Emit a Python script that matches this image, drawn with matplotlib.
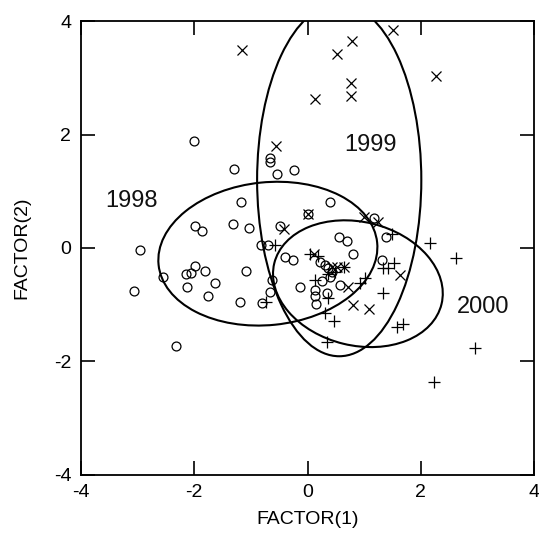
import matplotlib
matplotlib.use("Agg")
import matplotlib.pyplot as plt
from matplotlib.patches import Ellipse

plt.rcParams['font.family'] = ['Liberation Sans', 'DejaVu Sans']

# 1998 (circles)
x1998 = [-2.00, -1.30, -0.67, -0.67, -0.53, -0.24, -1.18, -1.99, -1.86, -1.31,
         -1.03, -0.48, -2.96, -0.83, -0.69, -2.56, -3.06, -1.98, -2.14, -2.06,
         -1.81, -1.64, -2.12, -1.75, -1.08, -1.19, -0.80, -0.63, -0.66, -0.39,
         -0.25, -0.14, -2.33, 0.39, 0.01, 1.18, 1.39, 0.55, 0.70, 0.81,
         0.25, 0.14, 0.14, 0.15, 0.35, 0.58, 1.31, 0.22, 0.31, 0.37, 0.43, 0.40]
y1998 = [1.88, 1.39, 1.58, 1.51, 1.30, 1.38, 0.81, 0.39, 0.30, 0.43,
         0.35, 0.39, -0.04, 0.05, 0.05, -0.51, -0.75, -0.31, -0.45, -0.44,
         -0.41, -0.62, -0.69, -0.85, -0.41, -0.96, -0.97, -0.56, -0.77, -0.16,
         -0.21, -0.69, -1.73, 0.81, 0.60, 0.53, 0.20, 0.20, 0.12, -0.11,
         -0.59, -0.74, -0.85, -0.98, -0.79, -0.65, -0.21, -0.24, -0.30, -0.36, -0.42, -0.51]

# 1999 (crosses)
x1999 = [-1.15, -0.55, -0.42, 0.01, 0.99, 1.25, 1.51, 0.79, 0.52, 2.27,
         0.77, 0.77, 0.14, 0.12, 0.43, 0.52, 0.64, 0.71, 1.64, 0.81, 1.08]
y1999 = [3.50, 1.80, 0.33, 0.60, 0.55, 0.45, 3.85, 3.65, 3.42, 3.04,
         2.92, 2.68, 2.63, -0.10, -0.33, -0.33, -0.33, -0.68, -0.48, -1.01, -1.08]

# 2000 (pluses)
x2000 = [-0.57, -0.74, 0.05, 0.19, 0.37, 0.49, 0.64, 0.14, 0.37, 0.93,
         1.02, 1.49, 2.17, 2.62, 1.34, 1.43, 1.53, 1.34, 0.31, 0.46,
         1.58, 1.68, 0.35, 2.96, 2.23]
y2000 = [0.05, -0.95, -0.11, -0.14, -0.45, -0.42, -0.33, -0.56, -0.89, -0.62,
         -0.53, 0.25, 0.09, -0.18, -0.36, -0.36, -0.27, -0.80, -1.15, -1.28,
         -1.39, -1.34, -1.65, -1.76, -2.37]

# confidence ellipses: center x, center y, width, height, angle
years = ['1998', '1999', '2000']
ell_cx = [-0.70, 0.56, 0.89]
ell_cy = [-0.10, 1.20, -0.63]
ell_w = [3.88, 2.90, 3.04]
ell_h = [2.52, 6.22, 2.18]
ell_ang = [5.8, 0.0, -13.7]
label_x = [-3.11, 1.12, 3.10]
label_y = [0.83, 1.81, -1.04]

ticks = [-4, -2, 0, 2, 4]

fig = plt.figure(figsize=(5.39, 5.37), dpi=100)
ax = fig.add_axes([81/539, 1 - 474.7/537, 453/539, 453.4/537])

ax.plot(x1998, y1998, linestyle='none', marker='o', markersize=6.4,
        markerfacecolor='none', markeredgecolor='black', markeredgewidth=0.9)
ax.plot(x1999, y1999, linestyle='none', marker='x', markersize=6.5,
        color='black', markeredgewidth=0.9)
ax.plot(x2000, y2000, linestyle='none', marker='+', markersize=8.0,
        color='black', markeredgewidth=0.9)

for cx, cy, w, h, a in zip(ell_cx, ell_cy, ell_w, ell_h, ell_ang):
    ax.add_patch(Ellipse((cx, cy), w, h, angle=a, fill=False,
                         edgecolor='black', linewidth=1.5))

for t, lx, ly in zip(years, label_x, label_y):
    ax.text(lx, ly, t, fontsize=17, ha='center', va='center', color='#111111')

ax.set_xlim(-4, 4)
ax.set_ylim(-4, 4)
ax.set_xticks(ticks)
ax.set_yticks(ticks)
ax.set_xticklabels([str(t) for t in ticks])
ax.set_yticklabels([str(t) for t in ticks])
ax.tick_params(direction='in', length=10, width=1.2, top=True, right=True,
               labelsize=14, pad=7, colors='black')
for s in ax.spines.values():
    s.set_linewidth(1.3)
ax.set_xlabel('FACTOR(1)', fontsize=14, labelpad=7)
ax.set_ylabel('FACTOR(2)', fontsize=14, labelpad=17)

fig.savefig('out.png', dpi=100)
